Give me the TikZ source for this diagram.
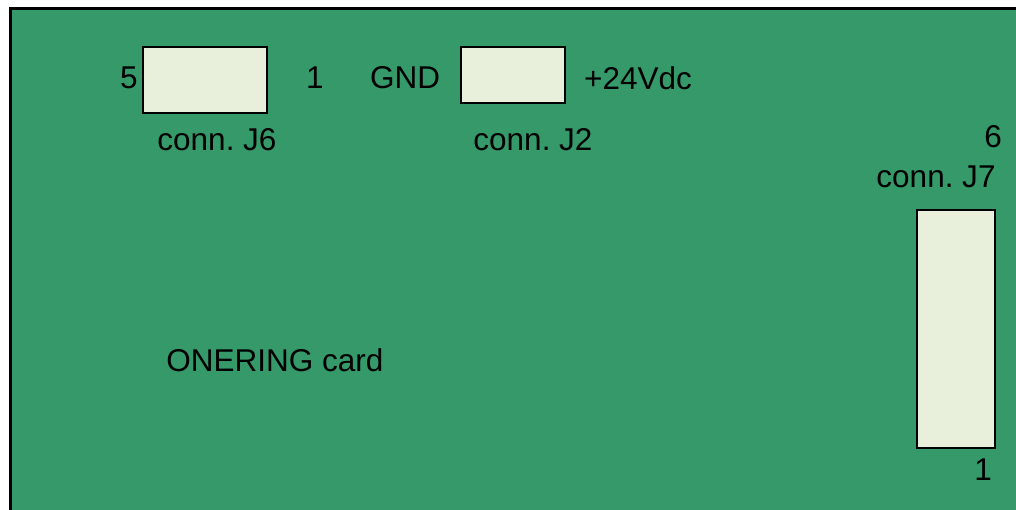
\documentclass[tikz,border=0pt]{standalone}
\usepackage{fontspec}
\setmainfont{Liberation Sans}
\frenchspacing
\usepackage{tikz}
\usetikzlibrary{positioning}
\definecolor{boardgreen}{RGB}{54,153,106}
\definecolor{connfill}{RGB}{232,240,220}
\tikzset{
	conn/.style={draw=black, line width=2pt, fill=connfill, inner sep=0pt},
	lbl/.style={font=\fontsize{31.5}{34}\selectfont, inner sep=0pt}
}

\begin{document}
\begin{tikzpicture}[x=1pt, y=-1pt]
			\useasboundingbox (0,0) rectangle (1016,510);
			\clip (0,0) rectangle (1016,510);
			\draw[line width=3pt, fill=boardgreen] (10,9) rectangle (1040,540);
			% connectors
			\node[conn, minimum width=124pt, minimum height=66pt] (j6) at (205,80) {};
			\node[conn, minimum width=104pt, minimum height=56pt] (j2) at (513,75) {};
			\node[conn, minimum width=78pt, minimum height=238pt] (j7) at (956,329) {};
			% labels
			\node[lbl] (j6a) at (129,78) {5};
			\node[lbl] (j6b) at (315,78) {1};
			\node[lbl] (j6n) at (217,140) {conn. J6};
			\node[lbl] (j2a) at (405,78) {GND};
			\node[lbl] (j2b) at (638,78) {+24Vdc};
			\node[lbl] (j2n) at (533,140) {conn. J2};
			\node[lbl] (j7a) at (993,137) {6};
			\node[lbl] (j7n) at (936,177) {conn. J7};
			\node[lbl] (j7b) at (983,470) {1};
			\node[lbl] (card) at (275,360) {ONERING card};
		\end{tikzpicture}
\end{document}
